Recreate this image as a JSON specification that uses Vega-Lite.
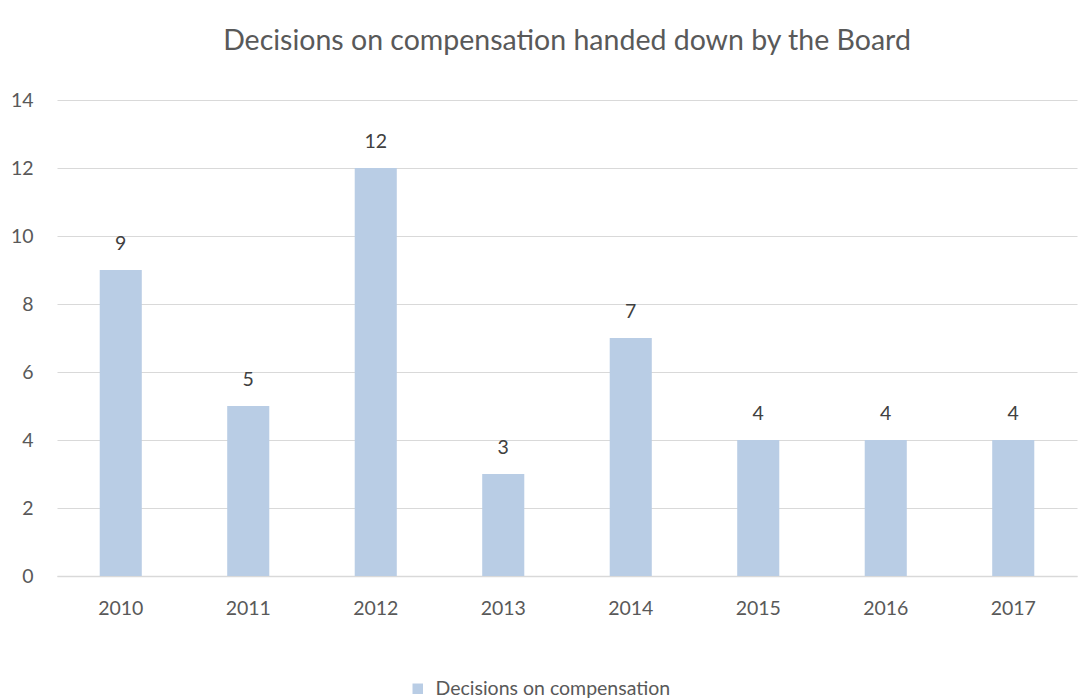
{
  "$schema": "https://vega.github.io/schema/vega-lite/v6.json",
  "width": 1020,
  "height": 476,
  "autosize": {"type": "none"},
  "padding": {"left": 57, "top": 100, "right": 8, "bottom": 123},
  "background": "white",
  "view": {"stroke": null},
  "title": {
    "text": "Decisions on compensation handed down by the Board",
    "font": "Lato",
    "fontSize": 28.5,
    "fontWeight": "normal",
    "color": "#595959",
    "anchor": "middle",
    "offset": 35
  },
  "data": {
    "values": [
      {"year": "2010", "value": 9, "series": "Decisions on compensation"},
      {"year": "2011", "value": 5, "series": "Decisions on compensation"},
      {"year": "2012", "value": 12, "series": "Decisions on compensation"},
      {"year": "2013", "value": 3, "series": "Decisions on compensation"},
      {"year": "2014", "value": 7, "series": "Decisions on compensation"},
      {"year": "2015", "value": 4, "series": "Decisions on compensation"},
      {"year": "2016", "value": 4, "series": "Decisions on compensation"},
      {"year": "2017", "value": 4, "series": "Decisions on compensation"}
    ]
  },
  "encoding": {
    "x": {
      "field": "year",
      "type": "nominal",
      "scale": {"paddingInner": 0.67, "paddingOuter": 0.335},
      "axis": {
        "title": null,
        "labelAngle": 0,
        "labelFont": "Lato",
        "labelFontSize": 19.5,
        "labelColor": "#595959",
        "labelPadding": 32,
        "labelBaseline": "middle",
        "ticks": false,
        "domainColor": "#D9D9D9",
        "domainWidth": 1.5
      }
    },
    "y": {
      "field": "value",
      "type": "quantitative",
      "scale": {"domain": [0, 14]},
      "axis": {
        "title": null,
        "values": [0, 2, 4, 6, 8, 10, 12, 14],
        "labelFont": "Lato",
        "labelFontSize": 19.5,
        "labelColor": "#595959",
        "labelPadding": 24,
        "ticks": false,
        "domain": false,
        "gridColor": "#D9D9D9",
        "gridWidth": 1.2
      }
    }
  },
  "layer": [
    {
      "mark": {"type": "bar", "color": "#B9CDE5"},
      "encoding": {
        "color": {
          "field": "series",
          "type": "nominal",
          "scale": {"range": ["#B9CDE5"]},
          "legend": {
            "title": null,
            "orient": "none",
            "legendX": 351,
            "legendY": 579,
            "symbolType": "square",
            "symbolSize": 110,
            "labelLimit": 0,
            "labelOffset": 8,
            "labelFont": "Lato",
            "labelFontSize": 19.5,
            "labelColor": "#595959"
          }
        }
      }
    },
    {
      "mark": {
        "type": "text",
        "dy": -26,
        "font": "Lato",
        "fontSize": 19.5,
        "color": "#404040"
      },
      "encoding": {"text": {"field": "value", "type": "quantitative"}}
    }
  ]
}
